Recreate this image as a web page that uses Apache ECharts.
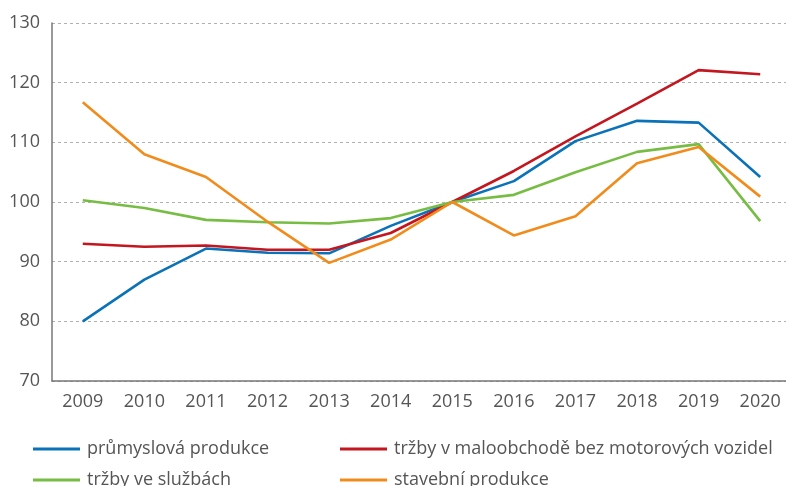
<!DOCTYPE html>
<html>
<head>
<meta charset="utf-8">
<script src="https://cdn.jsdelivr.net/npm/echarts@6/dist/echarts.min.js"></script>
<style>
  html, body { margin: 0; padding: 0; background: #fff; overflow: hidden; }
  #chart { width: 800px; height: 486px; }
</style>
</head>
<body>
<div id="chart"></div>
<script>
// roky
var years = ['2009', '2010', '2011', '2012', '2013', '2014', '2015', '2016', '2017', '2018', '2019', '2020'];
// indexy, 2015 = 100
var prumysl = [80.0, 87.0, 92.2, 91.5, 91.4, 96.0, 100.0, 103.5, 110.2, 113.6, 113.3, 104.2];
var maloobchod = [93.0, 92.5, 92.7, 92.0, 92.0, 94.8, 100.0, 105.2, 111.0, 116.5, 122.1, 121.4];
var sluzby = [100.3, 99.0, 97.0, 96.6, 96.4, 97.3, 100.0, 101.2, 105.0, 108.4, 109.7, 96.8];
var stavebnictvi = [116.7, 108.0, 104.2, 96.7, 89.8, 93.7, 100.0, 94.4, 97.6, 106.5, 109.2, 100.9];

var chart = echarts.init(document.getElementById('chart'));
var font = '"Open Sans", "Noto Sans", sans-serif';

function serie(name, data, color) {
	return {
		name: name,
		type: 'line',
		data: data,
		symbol: 'none',
		lineStyle: { color: color, width: 2.6 },
		itemStyle: { color: color }
	};
}

// jedna legenda = jedna polozka, at je rozlozeni presne
function legenda(name, left, top) {
	return {
		left: left,
		top: top,
		data: [name],
		itemWidth: 47,
		itemHeight: 3,
		icon: 'rect',
		textStyle: { fontFamily: font, fontSize: 18, color: '#555', padding: [0, 0, 0, 2] }
	};
}

var option = {
	animation: false,
	grid: { left: 52, top: 23, width: 739, height: 358 },
	legend: [
		legenda('průmyslová produkce', 28, 435),
		legenda('tržby ve službách', 28, 466),
		legenda('tržby v maloobchodě bez motorových vozidel', 335, 435),
		legenda('stavební produkce', 335, 466)
	],
	xAxis: {
		type: 'category',
		data: years,
		boundaryGap: true,
		axisLine: { lineStyle: { color: '#777', width: 1.5 } },
		axisTick: { show: false },
		axisLabel: { fontFamily: font, fontSize: 18, color: '#555', margin: 12 }
	},
	yAxis: {
		type: 'value',
		min: 70,
		max: 130,
		interval: 10,
		axisLine: { show: true, lineStyle: { color: '#777', width: 1.5 } },
		axisTick: { show: false },
		splitLine: { lineStyle: { color: '#b0b0b0', type: [3, 3] } },
		axisLabel: { fontFamily: font, fontSize: 18, color: '#555', margin: 12 }
	},
	series: [
		serie('průmyslová produkce', prumysl, '#0a72b8'),
		serie('tržby v maloobchodě bez motorových vozidel', maloobchod, '#c3161f'),
		serie('tržby ve službách', sluzby, '#77bd43'),
		serie('stavební produkce', stavebnictvi, '#f18c1c')
	]
};
chart.setOption(option);
</script>
</body>
</html>
